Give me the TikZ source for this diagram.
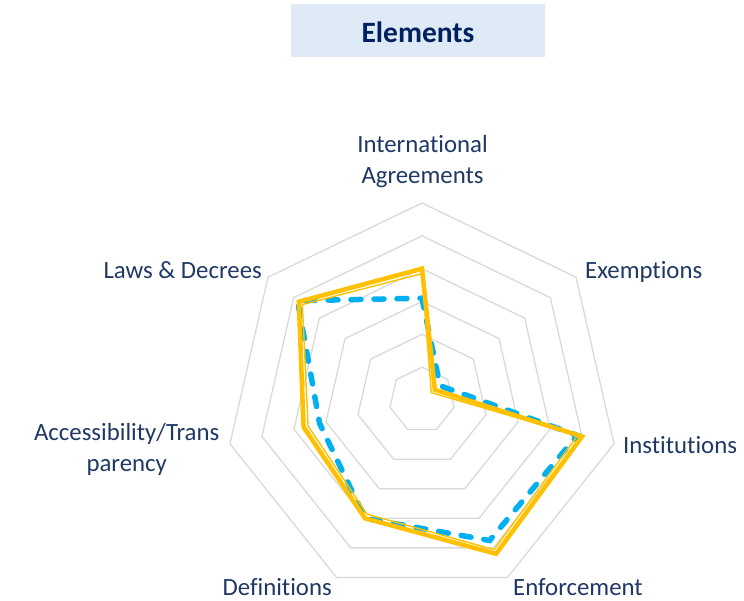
\documentclass[tikz,border=0pt]{standalone}
\usepackage{fontspec}
\setmainfont{Carlito}[Ligatures=NoCommon]
\definecolor{navy}{HTML}{1F3864}
\definecolor{titlenavy}{HTML}{002060}
\definecolor{titlefill}{HTML}{DEEAF6}
\definecolor{gridgray}{HTML}{D9D9D9}
\definecolor{gold}{HTML}{FFC000}
\definecolor{skyblue}{HTML}{00B0F0}
\def\unit{32.83}

\begin{document}
\begin{tikzpicture}[x=1pt,y=1pt,
  ringline/.style={draw=gridgray, line width=1.3pt},
  axislabel/.style={text=navy, font=\fontsize{24.8}{31}\selectfont, inner sep=0pt, align=center},
  seriesblue/.style={draw=skyblue, line width=5.5pt, line cap=round, dash pattern=on 10pt off 13pt},
  seriesgold/.style={draw=gold, line width=4.5pt},
  seriesthin/.style={draw=gold, line width=1.4pt}]

\useasboundingbox (0,0) rectangle (744,-601);

% title
\fill[titlefill] (291,-4) rectangle (545,-57);
\node[anchor=base, text=titlenavy, font=\fontsize{29.5}{35}\selectfont\bfseries] (title) at (418,-43) {Elements};

\begin{scope}[shift={(422,-400)}]
% rings
\foreach \k in {1,...,6}
  \draw[ringline] (90:\k*\unit) \foreach \i in {1,...,6} {-- ({90-\i*360/7}:\k*\unit)} -- cycle;

% data points
\foreach \v [count=\i from 0] in {3.1,0.7,4.85,4.75,4.0,3.2,4.85}
  \coordinate (b\i) at ({90-\i*360/7}:\v*\unit);
\foreach \v [count=\i from 0] in {4.0,0.5,5.0,5.2,4.0,3.7,4.8}
  \coordinate (g\i) at ({90-\i*360/7}:\v*\unit);
\foreach \v [count=\i from 0] in {3.85,0.36,4.86,5.06,3.86,3.56,4.66}
  \coordinate (t\i) at ({90-\i*360/7}:\v*\unit);

\draw[seriesblue] (b0) -- (b1) -- (b2) -- (b3) -- (b4) -- (b5) -- (b6) -- cycle;
\draw[seriesgold] (g0) -- (g1) -- (g2) -- (g3) -- (g4) -- (g5) -- (g6) -- cycle;
\draw[seriesthin] (t0) -- (t1) -- (t2) -- (t3) -- (t4) -- (t5) -- (t6) -- cycle;
\end{scope}

% axis labels
\node[axislabel, anchor=base] (intl) at (422.5,-183.5) {International\\Agreements};
\node[axislabel, anchor=base west] (exempt) at (585,-278.3) {Exemptions};
\node[axislabel, anchor=base west] (inst) at (623,-453.3) {Institutions};
\node[axislabel, anchor=base west] (enforce) at (513,-595) {Enforcement};
\node[axislabel, anchor=base east] (defs) at (332,-595) {Definitions};
\node[axislabel, anchor=base] (access) at (126.7,-471) {Accessibility/Trans\\parency};
\node[axislabel, anchor=base east] (laws) at (262,-278.3) {Laws \& Decrees};
\end{tikzpicture}
\end{document}
